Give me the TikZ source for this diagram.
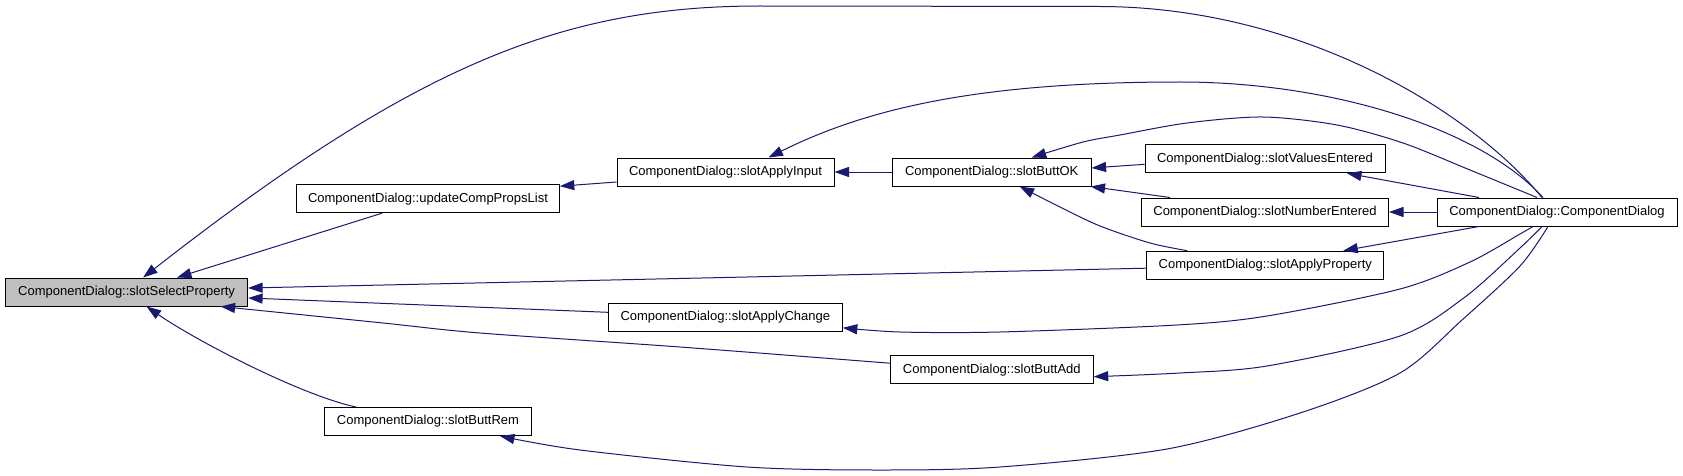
\documentclass[tikz,border=0pt]{standalone}
\usepackage{fontspec}
\setmainfont{Liberation Sans}
\usetikzlibrary{arrows.meta,calc}
\definecolor{edgeblue}{RGB}{25,25,112}
\definecolor{hlgray}{RGB}{191,191,191}
\begin{document}
\begin{tikzpicture}[x=1pt,y=-1pt,
  fn/.style={draw=black, line width=1pt, fill=white, minimum height=28pt, inner sep=0pt,
    font=\fontsize{13}{15}\selectfont, text height=9.4pt, text depth=2.7pt},
  call/.style={draw=edgeblue, line width=1pt, -{Triangle[length=14.5pt,width=10pt]}},
]
\useasboundingbox (0,0) rectangle (1683,476);
% nodes
\node[fn, fill=hlgray, minimum width=242pt] (ssp) at (126.6,292) {ComponentDialog::slotSelectProperty};
\node[fn, minimum width=262.6pt] (ucpl) at (428,198.7) {ComponentDialog::updateCompPropsList};
\node[fn, minimum width=217pt] (sai) at (725.5,172) {ComponentDialog::slotApplyInput};
\node[fn, minimum width=198.7pt] (sbok) at (991.7,172) {ComponentDialog::slotButtOK};
\node[fn, minimum width=240pt] (sve) at (1265,158.8) {ComponentDialog::slotValuesEntered};
\node[fn, minimum width=247pt] (sne) at (1265,212) {ComponentDialog::slotNumberEntered};
\node[fn, minimum width=237.3pt] (sap) at (1265.3,265.2) {ComponentDialog::slotApplyProperty};
\node[fn, minimum width=240pt] (cd) at (1557,212) {ComponentDialog::ComponentDialog};
\node[fn, minimum width=234pt] (sac) at (725.3,317.3) {ComponentDialog::slotApplyChange};
\node[fn, minimum width=202.8pt] (sba) at (991.8,369.7) {ComponentDialog::slotButtAdd};
\node[fn, minimum width=207pt] (sbr) at (428,421.5) {ComponentDialog::slotButtRem};
% end points
\coordinate (e1s) at ($(cd.north)+(-15,0)$);
\coordinate (e1t) at ($(ssp.north)+(16.5,0)$);
\coordinate (e5s) at ($(cd.north)+(-14,0)$);
\coordinate (e5t) at ($(sai.north)+(43,0)$);
\coordinate (e6s) at ($(cd.north)+(-20,0)$);
\coordinate (e6t) at ($(sbok.north)+(40,0)$);
\coordinate (e9s) at ($(sap.north)+(-78,0)$);
\coordinate (e9t) at ($(sbok.south)+(28,0)$);
\coordinate (e13s) at ($(cd.south)+(-24,0)$);
\coordinate (e13t) at ($(sac.east)+(0,10.5)$);
\coordinate (e14s) at ($(cd.south)+(-15,0)$);
\coordinate (e14t) at ($(sba.east)+(0,7)$);
\coordinate (e15s) at ($(cd.south)+(-9,0)$);
\coordinate (e15t) at ($(sbr.south)+(72,0)$);
\coordinate (e18s) at ($(sba.west)+(0,-6.5)$);
\coordinate (e18t) at ($(ssp.south)+(94,0)$);
\coordinate (e19s) at ($(sbr.north)+(-72,0)$);
\coordinate (e19t) at ($(ssp.south)+(20,0)$);
% edges
\draw[call] (e1s) .. controls (1470,110) and (1300,7) .. (1100,6.5) -- (760,6)
  .. controls (560,6) and (413,67) .. (e1t);
\draw[call] ($(ucpl.south)+(-46,0)$) -- ($(ssp.north)+(50.4,0)$);
\draw[call] ($(sai.west)+(0,10)$) -- ($(ucpl.east)+(0,-12.5)$);
\draw[call] (sbok.west) -- (sai.east);
\draw[call] (e5s) .. controls (1480,128) and (1330,82) .. (1180,82)
  .. controls (980,82) and (868,108) .. (e5t);
\draw[call] plot[smooth] coordinates {(e6s) (1470,170) (1403,143) (1337,125) (1263,117) (1187,123) (1120,135) (1083,142) (e6t)};
\draw[call] ($(sve.west)+(0,5.5)$) -- ($(sbok.east)+(0,-4)$);
\draw[call] ($(sne.north)+(-95,0)$) -- ($(sbok.south east)+(-1,0)$);
\draw[call] plot[smooth] coordinates {(e9s) (1150,243) (1100,226) (1060,207) (e9t)};
\draw[call] ($(cd.north)+(-78,0)$) -- ($(sve.south)+(82,0)$);
\draw[call] (cd.west) -- (sne.east);
\draw[call] ($(cd.south)+(-78,0)$) -- ($(sap.north)+(78,0)$);
\draw[call] plot[smooth] coordinates {(e13s) (1520,234) (1470,262) (1400,289) (1267,316) (1177,325) (1000,332) (900,332) (e13t)};
\draw[call] plot[smooth] coordinates {(e14s) (1520,248) (1465,297) (1400,336) (1267,366) (1180,373) (e14t)};
\draw[call] plot[smooth] coordinates {(e15s) (1520,266) (1462,320) (1400,373) (1300,413) (1167,449) (1000,467) (880,470) (747,467) (580,450) (e15t)};
\draw[call] ($(sap.west)+(0,3)$) -- ($(ssp.east)+(0,-4)$);
\draw[call] ($(sac.west)+(0,-5)$) -- ($(ssp.east)+(0,6)$);
\draw[call] plot[smooth] coordinates {(e18s) (680,347) (480,333) (383,323) (e18t)};
\draw[call] (e19s) .. controls (300,395) and (195,340) .. (e19t);
\end{tikzpicture}
\end{document}
